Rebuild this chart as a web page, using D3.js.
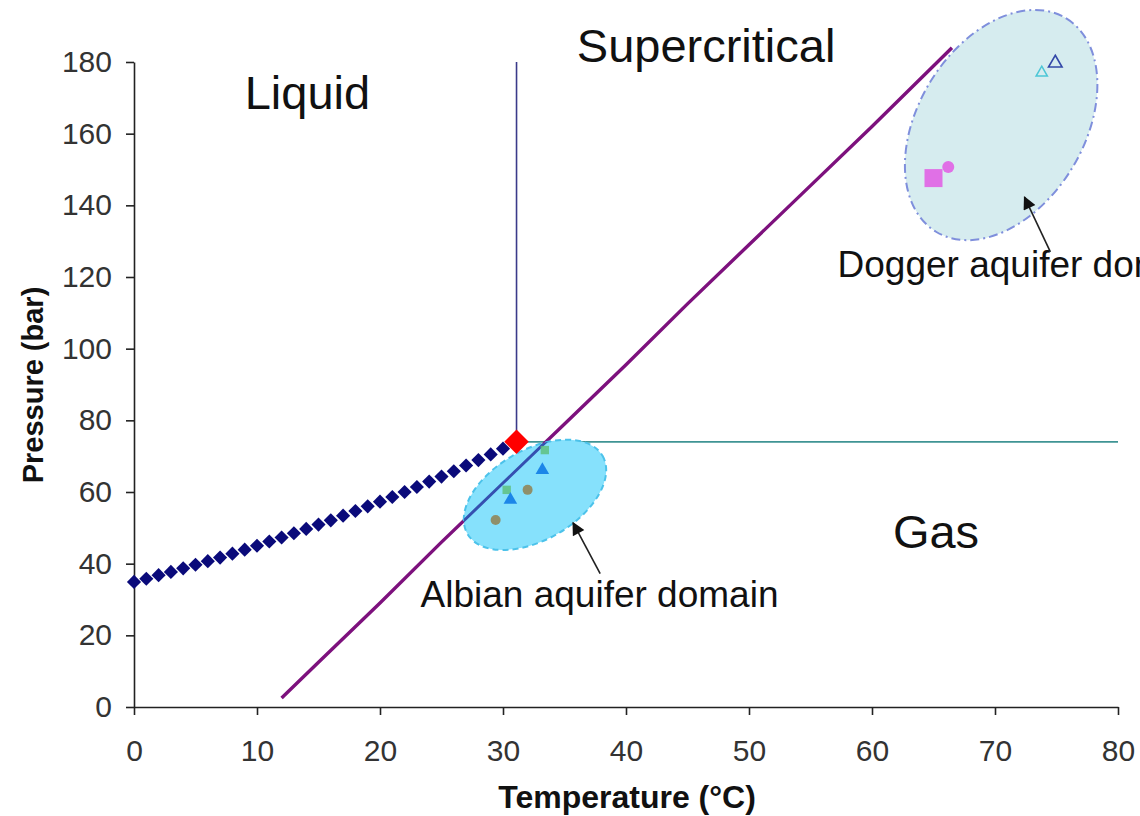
<!DOCTYPE html>
<html>
<head>
<meta charset="utf-8">
<script src="https://cdn.jsdelivr.net/npm/d3@7"></script>
<style>
  html, body { margin: 0; padding: 0; background: #fff; }
  svg { display: block; font-family: "Liberation Sans", Arial, sans-serif; }
</style>
</head>
<body>
<svg id="chart" width="1140" height="816"></svg>
<script>
// ---------- data ----------
const xTicks = [0, 10, 20, 30, 40, 50, 60, 70, 80];
const yTicks = [0, 20, 40, 60, 80, 100, 120, 140, 160, 180];

// liquid-vapour saturation curve (blue diamonds)
const satT = [0,1,2,3,4,5,6,7,8,9,10,11,12,13,14,15,16,17,18,19,20,21,22,23,24,25,26,27,28,29,30];
const satP = [34.9,35.8,36.8,37.7,38.7,39.7,40.7,41.7,42.8,43.9,45.0,46.2,47.3,48.5,49.7,50.9,52.1,53.4,54.7,56.0,57.3,58.6,60.0,61.4,62.9,64.3,65.8,67.4,68.9,70.5,72.1];

// critical point
const critT = [31.1];
const critP = [74.0];

// geothermal / hydrostatic path (purple line)
const pathT = [12.0, 15.0, 20.0, 25.0, 30.0, 35.0, 40.0, 45.0, 50.0, 55.0, 60.0, 66.5];
const pathP = [2.5, 12.5, 29.0, 46.0, 62.5, 79.0, 95.5, 112.5, 129.0, 145.5, 162.0, 184.0];

// Albian aquifer samples
const albSqT = [33.4, 30.3];   const albSqP = [71.7, 60.6];
const albTriT = [33.2, 30.6];  const albTriP = [66.1, 57.8];
const albCirT = [32.0, 29.4];  const albCirP = [60.6, 52.2];

// Dogger aquifer samples
const dogSqT = [65.0];  const dogSqP = [147.6];
const dogCirT = [66.2]; const dogCirP = [150.7];
const dogTriCyanT = [73.8]; const dogTriCyanP = [177.0];
const dogTriBlueT = [74.9]; const dogTriBlueP = [179.7];

// domain ellipses (centre in data units)
const ellipseNames = ["Albian", "Dogger"];
const ellipseT = [32.6, 70.5];
const ellipseP = [59.2, 162.4];

// labels
const regionLabels = ["Liquid", "Supercritical", "Gas"];
const regionT = [9.0, 36.0, 61.7];
const regionP = [167.0, 180.0, 44.5];
const domainLabels = ["Albian aquifer domain", "Dogger aquifer domain"];
const domainT = [23.3, 57.2];
const domainP = [28.0, 120.0];
// arrows (tail -> tip)
const arrowTailT = [37.9, 74.5]; const arrowTailP = [37.2, 127.0];
const arrowTipT = [35.7, 72.4];  const arrowTipP = [51.4, 142.3];

// ---------- chart ----------
const svg = d3.select("#chart");
svg.append("rect").attr("width", 1140).attr("height", 816).attr("fill", "#fff");

const x = d3.scaleLinear().domain([0, 80]).range([134, 1118]);
const y = d3.scaleLinear().domain([0, 180]).range([707, 62]);

const defs = svg.append("defs");
defs.append("marker").attr("id", "ah2").attr("viewBox", "0 0 10 10")
  .attr("refX", 9).attr("refY", 5).attr("markerWidth", 17).attr("markerHeight", 13)
  .attr("markerUnits", "userSpaceOnUse").attr("orient", "auto")
  .append("path").attr("d", "M0,0 L10,5 L0,10 z").attr("fill", "#111");

// axes
const yAxis = svg.append("g").attr("transform", `translate(${x(0)},0)`)
  .call(d3.axisLeft(y).tickValues(yTicks).tickSize(8).tickSizeOuter(0).tickPadding(14));
const xAxis = svg.append("g").attr("transform", `translate(0,${y(0)})`)
  .call(d3.axisBottom(x).tickValues(xTicks).tickSize(8).tickSizeOuter(0).tickPadding(25));
[yAxis, xAxis].forEach(g => {
  g.selectAll("path, line").attr("stroke", "#222").attr("stroke-width", 1.6);
  g.selectAll("text").attr("font-size", 30).attr("fill", "#333")
    .attr("font-family", "'Liberation Sans', Arial, sans-serif");
});

// axis titles
svg.append("text").attr("x", 627).attr("y", 808).attr("text-anchor", "middle")
  .attr("font-size", 32).attr("font-weight", "bold").attr("fill", "#111").text("Temperature (°C)");
svg.append("text").attr("transform", "translate(43,385) rotate(-90)").attr("text-anchor", "middle")
  .attr("font-size", 29).attr("font-weight", "bold").attr("fill", "#111").text("Pressure (bar)");

// phase boundary lines from the critical point
svg.append("line").attr("x1", x(critT[0])).attr("x2", x(critT[0]))
  .attr("y1", y(critP[0])).attr("y2", y(180)).attr("stroke", "#3a3a8a").attr("stroke-width", 1.6);
svg.append("line").attr("x1", x(critT[0])).attr("x2", x(80))
  .attr("y1", y(critP[0])).attr("y2", y(critP[0])).attr("stroke", "#3f9494").attr("stroke-width", 1.6);

// purple P-T path
const pathData = pathT.map((t, i) => [t, pathP[i]]);
const lineGen = d3.line().x(d => x(d[0])).y(d => y(d[1]));
svg.append("path").datum(pathData).attr("d", lineGen)
  .attr("fill", "none").attr("stroke", "#7d117d").attr("stroke-width", 3.4);

// saturation curve diamonds
const diamond = d3.symbol().type(d3.symbolSquare);
svg.append("g").selectAll("path").data(satT.map((t, i) => [t, satP[i]])).join("path")
  .attr("d", diamond.size(100)())
  .attr("transform", d => `translate(${x(d[0])},${y(d[1])}) rotate(45)`)
  .attr("fill", "#0a0a7a");

// ellipses
const albC = [x(ellipseT[0]), y(ellipseP[0])];
const albTransform = `rotate(-30 ${albC[0]} ${albC[1]})`;
defs.append("clipPath").attr("id", "albClip").append("ellipse")
  .attr("cx", albC[0]).attr("cy", albC[1]).attr("rx", 78).attr("ry", 45).attr("transform", albTransform);
svg.append("ellipse").attr("cx", albC[0]).attr("cy", albC[1]).attr("rx", 78).attr("ry", 45)
  .attr("transform", albTransform)
  .attr("fill", "#86e1fc")
  .attr("stroke", "#4cc2ea").attr("stroke-width", 2).attr("stroke-dasharray", "6,4");
// purple path seen through the translucent Albian domain
svg.append("path").datum(pathData).attr("d", lineGen).attr("clip-path", "url(#albClip)")
  .attr("fill", "none").attr("stroke", "#3550b0").attr("stroke-width", 3);

const dogC = [x(ellipseT[1]), y(ellipseP[1])];
svg.append("ellipse").attr("cx", dogC[0]).attr("cy", dogC[1]).attr("rx", 125).attr("ry", 83)
  .attr("transform", `rotate(-58.6 ${dogC[0]} ${dogC[1]})`)
  .attr("fill", "#d6ecef")
  .attr("stroke", "#7f8fdc").attr("stroke-width", 2).attr("stroke-dasharray", "9,4,2,4");

// critical point
svg.append("path").attr("d", diamond.size(300)())
  .attr("transform", `translate(${x(critT[0])},${y(critP[0])}) rotate(45)`)
  .attr("fill", "#ff0000");

// Albian points
const g = svg.append("g");
albSqT.forEach((t, i) => g.append("path").attr("d", d3.symbol().type(d3.symbolSquare).size(70)())
  .attr("transform", `translate(${x(t)},${y(albSqP[i])})`).attr("fill", "#5fbf7f").attr("fill-opacity", 0.85));
albTriT.forEach((t, i) => g.append("path").attr("d", d3.symbol().type(d3.symbolTriangle).size(80)())
  .attr("transform", `translate(${x(t)},${y(albTriP[i])})`).attr("fill", "#1c86e8"));
albCirT.forEach((t, i) => g.append("circle").attr("cx", x(t)).attr("cy", y(albCirP[i])).attr("r", 5)
  .attr("fill", "#8f8f6a"));

// Dogger points
dogSqT.forEach((t, i) => g.append("path").attr("d", d3.symbol().type(d3.symbolSquare).size(324)())
  .attr("transform", `translate(${x(t)},${y(dogSqP[i])})`).attr("fill", "#e070e6"));
dogCirT.forEach((t, i) => g.append("circle").attr("cx", x(t)).attr("cy", y(dogCirP[i])).attr("r", 6)
  .attr("fill", "#e070e6"));
dogTriCyanT.forEach((t, i) => g.append("path").attr("d", d3.symbol().type(d3.symbolTriangle).size(55)())
  .attr("transform", `translate(${x(t)},${y(dogTriCyanP[i])})`).attr("fill", "none")
  .attr("stroke", "#4cc6d6").attr("stroke-width", 1.5));
dogTriBlueT.forEach((t, i) => g.append("path").attr("d", d3.symbol().type(d3.symbolTriangle).size(80)())
  .attr("transform", `translate(${x(t)},${y(dogTriBlueP[i])})`).attr("fill", "none")
  .attr("stroke", "#3348a8").attr("stroke-width", 1.6));

// arrows
arrowTailT.forEach((t, i) => svg.append("line")
  .attr("x1", x(t)).attr("y1", y(arrowTailP[i]))
  .attr("x2", x(arrowTipT[i])).attr("y2", y(arrowTipP[i]))
  .attr("stroke", "#222").attr("stroke-width", 1.6).attr("marker-end", "url(#ah2)"));

// region labels
regionLabels.forEach((s, i) => svg.append("text").attr("x", x(regionT[i])).attr("y", y(regionP[i]))
  .attr("font-size", 47).attr("fill", "#111").text(s));
domainLabels.forEach((s, i) => svg.append("text").attr("x", x(domainT[i])).attr("y", y(domainP[i]))
  .attr("font-size", 37).attr("fill", "#111").text(s));
</script>
</body>
</html>
